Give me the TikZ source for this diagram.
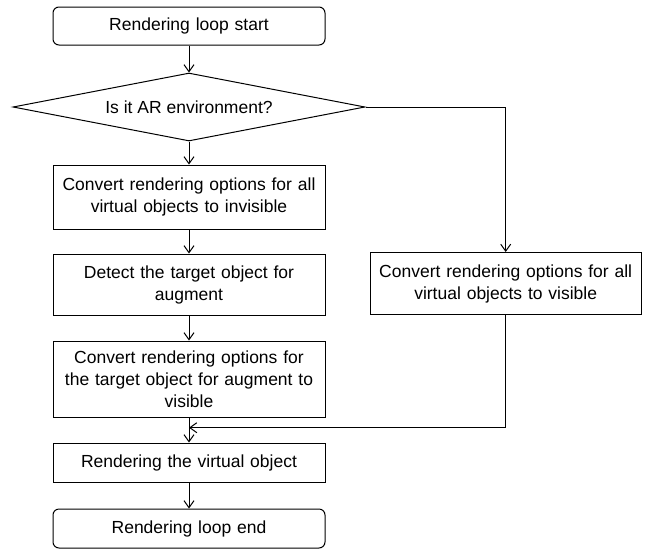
\documentclass[tikz,border=0pt]{standalone}
\usepackage{fontspec}
\setmainfont{Liberation Sans}
\usetikzlibrary{shapes.geometric,arrows.meta}
\begin{document}
\begin{tikzpicture}[x=1pt,y=-1pt,
  every node/.style={font=\fontsize{17.5}{22}\selectfont, align=center, inner sep=0pt, line width=1pt},
  procbox/.style={draw, rectangle, minimum width=272, text width=262},
  termbox/.style={draw, rectangle, rounded corners=6, minimum width=272, text width=262},
  decide/.style={draw, diamond, minimum width=352, minimum height=68, aspect=5.2},
  flow/.style={draw, line width=1pt, -{Straight Barb[length=7pt,width=10pt]}}
]
\useasboundingbox (0,0) rectangle (646,550);

\node[termbox, minimum height=38] (start) at (189,26) {Rendering loop start};
\node[decide] (ar) at (189,107) {Is it AR environment?};
\node[procbox, minimum height=64] (hide) at (189,197) {Convert rendering options for all\\virtual objects to invisible};
\node[procbox, minimum height=61] (detect) at (189,284.5) {Detect the target object for\\augment};
\node[procbox, minimum height=76] (showtarget) at (189,379) {Convert rendering options for\\the target object for augment to\\visible};
\node[procbox, minimum height=62, minimum width=271] (showall) at (505.7,283.5) {Convert rendering options for all\\virtual objects to visible};
\node[procbox, minimum height=39] (render) at (189,462.5) {Rendering the virtual object};
\node[termbox, minimum height=39] (stop) at (189,528.5) {Rendering loop end};

\coordinate (merge) at (189,427.7);

\draw[flow] (start) -- (ar);
\draw[flow] (ar) -- (hide);
\draw[flow] (hide) -- (detect);
\draw[flow] (detect) -- (showtarget);
\draw[flow] (showtarget) -- (render);
\draw[flow] (ar.east) -| (showall.north);
\draw[flow] (showall.south) |- (merge);
\draw[flow] (render) -- (stop);
\end{tikzpicture}
\end{document}
